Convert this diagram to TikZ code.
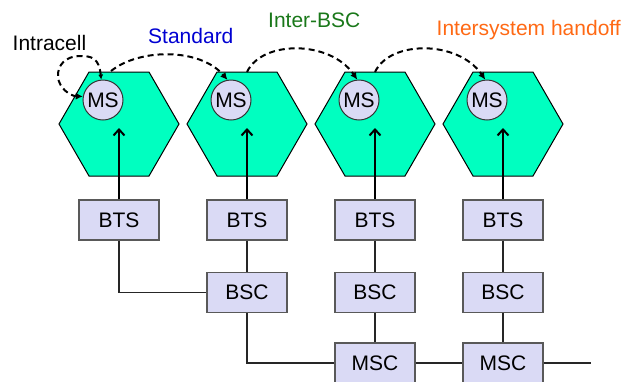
\documentclass[tikz,border=0pt]{standalone}
\usepackage{fontspec}
\setmainfont{Liberation Sans}
\usetikzlibrary{arrows.meta,calc}
\definecolor{hexc}{RGB}{0,255,192}
\definecolor{lav}{RGB}{218,218,245}
\definecolor{stdblue}{RGB}{0,0,210}
\definecolor{ibgreen}{RGB}{26,120,26}
\definecolor{isorange}{RGB}{255,105,20}
\begin{document}
\begin{tikzpicture}[x=1pt,y=-1pt,font=\fontsize{21}{25}\selectfont,
  hexcell/.style={draw=black, line width=1pt, fill=hexc},
  msnode/.style={circle, draw=black!80, line width=1pt, fill=lav, minimum size=40pt, inner sep=0pt},
  unit/.style={rectangle, draw=black!65, line width=1.3pt, fill=lav, minimum width=80pt, minimum height=40pt, inner sep=0pt},
  link/.style={draw=black!85, line width=1.2pt},
  uplink/.style={line width=2pt, -{Straight Barb[length=6pt,width=11pt]}},
  handoff/.style={dash pattern=on 6pt off 4pt, line width=2pt, -{Latex[length=7pt,width=7pt]}},
  lbl/.style={anchor=base west, inner sep=0pt}]
\useasboundingbox (0,0) rectangle (626,381);
% cells
\foreach \i/\cx in {1/119,2/247,3/375,4/503}{
  \draw[hexcell] (\cx-60,124) -- (\cx-30,72) -- (\cx+30,72) -- (\cx+60,124) -- (\cx+30,176) -- (\cx-30,176) -- cycle;
  \coordinate (tip\i) at (\cx,128);
  \node[unit] (bts\i) at (\cx,220) {BTS};
  \node[msnode] (ms\i) at (\cx-16,100) {MS};
  \draw[uplink] (bts\i.north) -- (tip\i);
}
\node[unit] (bsc2) at (247,292.5) {BSC};
\node[unit] (bsc3) at (375,292.5) {BSC};
\node[unit] (bsc4) at (503,292.5) {BSC};
\node[unit] (msc3) at (375,363) {MSC};
\node[unit] (msc4) at (503,363) {MSC};
\coordinate (mscend) at (591,363);
% wiring
\draw[link] (bts1.south) |- (bsc2.west);
\draw[link] (bts2) -- (bsc2);
\draw[link] (bts3) -- (bsc3);
\draw[link] (bts4) -- (bsc4);
\draw[link] (bsc2.south) |- (msc3.west);
\draw[link] (bsc3) -- (msc3);
\draw[link] (bsc4) -- (msc4);
\draw[link] (msc3) -- (msc4);
\draw[link] (msc4.east) -- (mscend);
% handoffs
\coordinate (hs1) at (111,71);
\coordinate (hs2) at (247,72);
\coordinate (hs3) at (375,72);
\draw[handoff, {Latex[length=5pt,width=5pt]}-{Latex[length=7pt,width=7pt]}] (ms1.95) .. controls (99,58) and (92,56) .. (80,56) .. controls (66,56) and (57,65) .. (58,77) .. controls (59,88) and (70,96) .. (ms1.170);
\draw[handoff] (hs1) .. controls (140,48) and (200,48) .. (ms2.100);
\draw[handoff] (hs2) .. controls (262,40) and (330,40) .. (ms3.95);
\draw[handoff] (hs3) .. controls (390,40) and (458,40) .. (ms4.95);
% labels
\node[lbl] (lintra) at (12.5,50) {Intracell};
\node[lbl, text=stdblue] (lstd) at (148,43) {Standard};
\node[lbl, text=ibgreen] (libsc) at (268,27) {Inter-BSC};
\node[lbl, text=isorange] (lis) at (436.5,35) {Intersystem handoff};
\end{tikzpicture}
\end{document}
